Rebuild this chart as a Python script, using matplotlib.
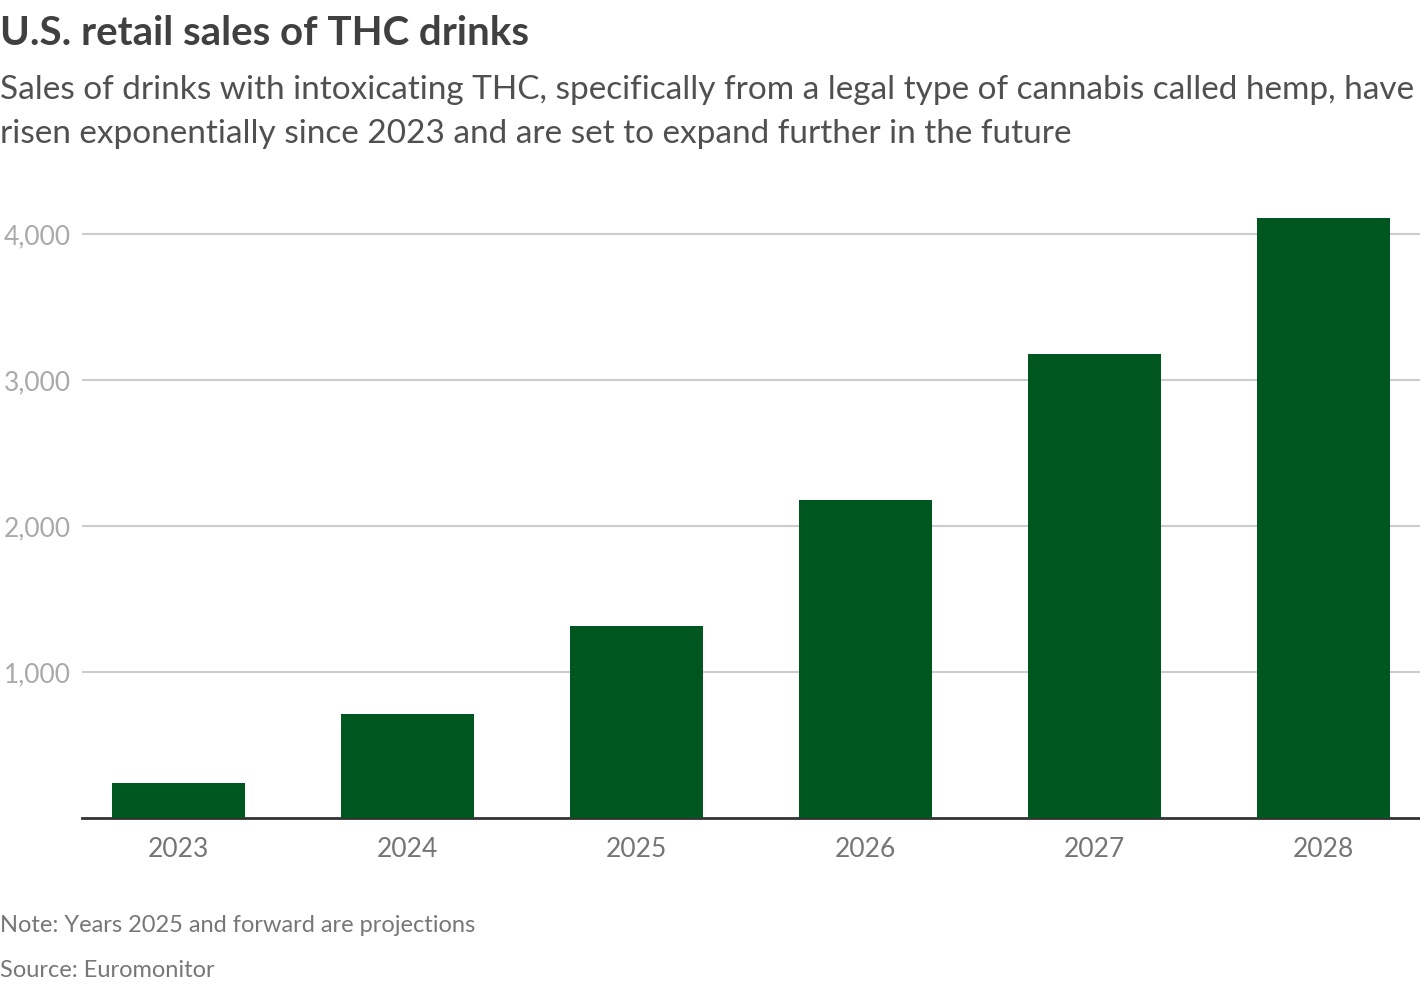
import matplotlib
matplotlib.use('Agg')
from matplotlib import pyplot as plt
from matplotlib.ticker import FuncFormatter

years = ['2023', '2024', '2025', '2026', '2027', '2028']
sales = [240, 712, 1315, 2178, 3178, 4110]
y_ticks = [1000, 2000, 3000, 4000]

title = 'U.S. retail sales of THC drinks'
subtitle_lines = ['Sales of drinks with intoxicating THC, specifically from a legal type of cannabis called hemp, have',
                  'risen exponentially since 2023 and are set to expand further in the future']
note = 'Note: Years 2025 and forward are projections'
source = 'Source: Euromonitor'

plt.rcParams['font.family'] = ['Lato', 'DejaVu Sans']

W, H = 1420, 984
fig = plt.figure(figsize=(W / 100, H / 100), dpi=100)
ax = fig.add_axes([82 / W, 1 - 818 / H, (W - 82) / W, (818 - 190) / H])

x = range(len(years))
ax.bar(x, sales, width=0.58, color='#00561f', zorder=3)

ax.set_xlim(-0.42, 5.42)
ax.set_ylim(0, 4000 * (818 - 190) / (818 - 234))
ax.set_yticks(y_ticks)
ax.yaxis.set_major_formatter(FuncFormatter(lambda v, p: f'{int(v):,}'))
ax.set_xticks(list(x))
ax.set_xticklabels(years)

ax.grid(axis='y', color='#cccccc', linewidth=1.5, zorder=0)
for side in ['top', 'right', 'left']:
    ax.spines[side].set_visible(False)
ax.spines['bottom'].set_color('#333333')
ax.spines['bottom'].set_linewidth(2)

ax.tick_params(axis='x', length=0, pad=14, labelsize=19, labelcolor='#757575')
ax.tick_params(axis='y', length=0, pad=8, labelsize=19, labelcolor='#aaaaaa')

fig.text(0, 1 - 45 / H, title, fontsize=29, fontweight='bold', color='#404040',
         ha='left', va='baseline')
for i, line in enumerate(subtitle_lines):
    fig.text(0, 1 - (99 + 44 * i) / H, line, fontsize=24, color='#505050',
             ha='left', va='baseline')
fig.text(0, 1 - 932 / H, note, fontsize=17, color='#777777', ha='left', va='baseline')
fig.text(0, 1 - 977 / H, source, fontsize=17, color='#777777', ha='left', va='baseline')

fig.savefig('out.png', dpi=100)
